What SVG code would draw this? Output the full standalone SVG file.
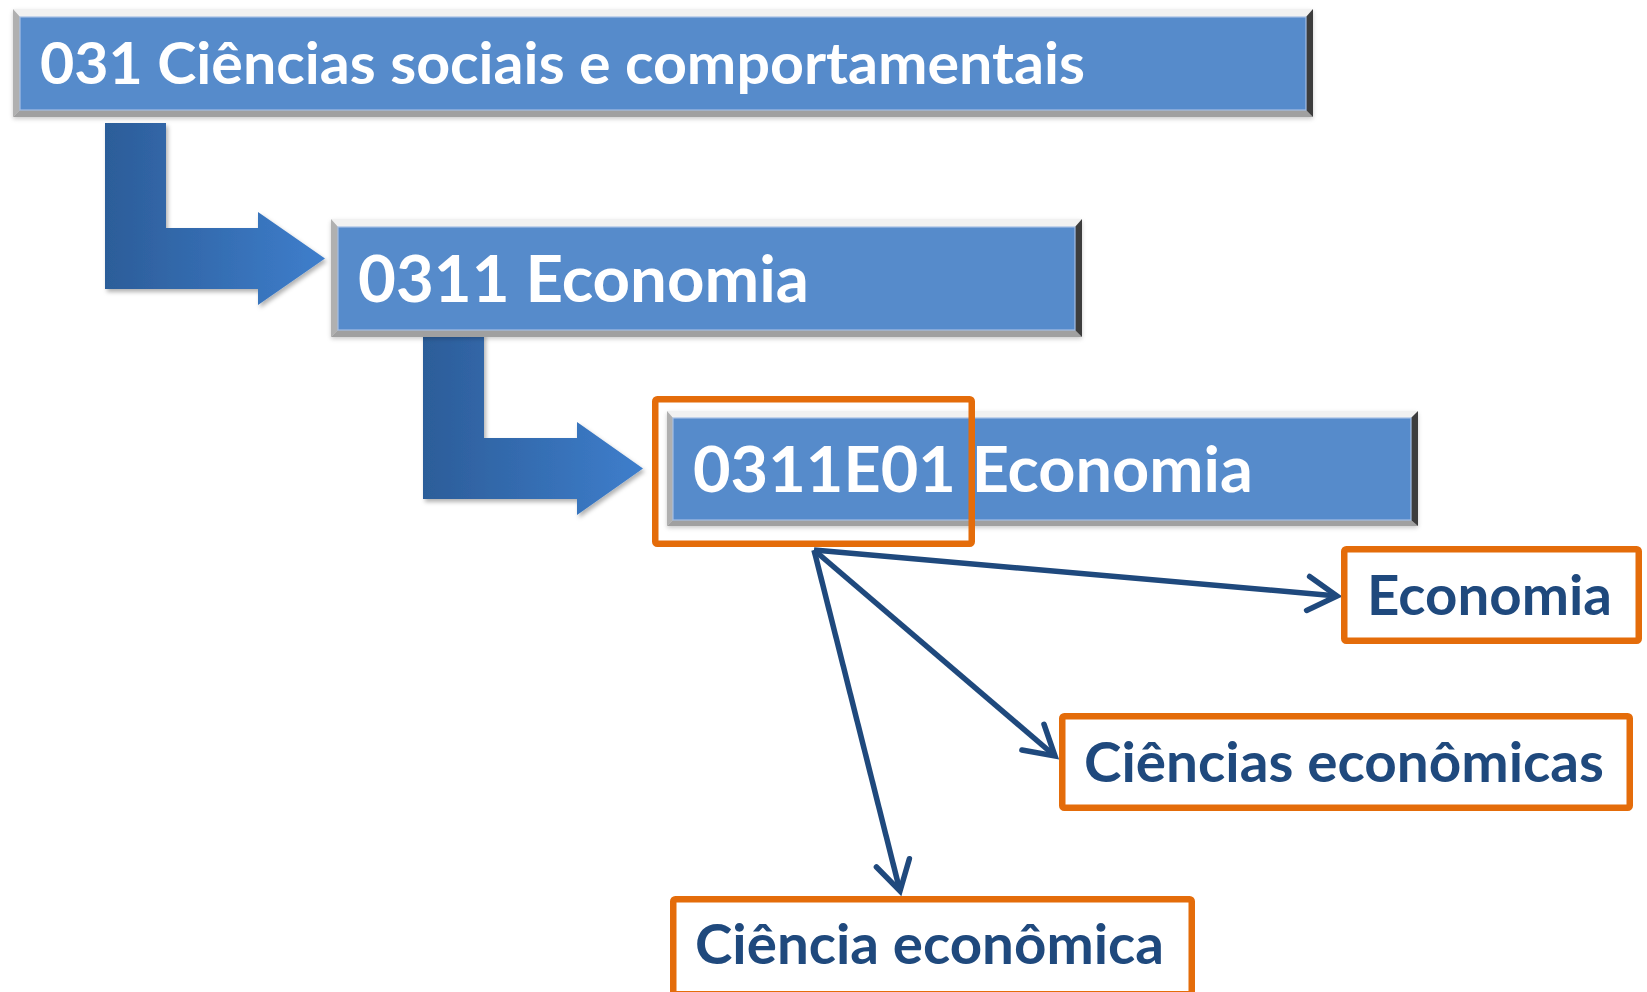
<svg xmlns="http://www.w3.org/2000/svg" width="1647" height="992" viewBox="0 0 1647 992">
<style>
.btxt{font-family:Lato,"Open Sans","Liberation Sans",sans-serif;font-weight:bold;fill:#ffffff}
.ltxt{font-family:Lato,"Open Sans","Liberation Sans",sans-serif;font-weight:bold;fill:#1F497D}
.fill{fill:#578BCB;stroke:#A3BFE5;stroke-width:1.2}
.bt{fill:#F1F1F1}
.bl{fill:#B0B0B0}
.bb{fill:#A0A0A0}
.br{fill:#3C3C3C}
.org{fill:#ffffff;stroke:#E46C0A;stroke-width:6.5}
.orgn{fill:none;stroke:#E46C0A;stroke-width:6.5}
.con{fill:none;stroke:#1F497D;stroke-width:5.5;marker-end:url(#chev)}
.bent{fill:url(#bentg);filter:url(#sh)}
</style>
<defs>
<linearGradient id="bentg" x1="0" y1="0" x2="1" y2="0">
<stop offset="0" stop-color="#2C5D99"/>
<stop offset="1" stop-color="#3E7ECC"/>
</linearGradient>
<filter id="sh" x="-10%" y="-10%" width="125%" height="125%">
<feDropShadow dx="2" dy="3" stdDeviation="2" flood-color="#000" flood-opacity="0.3"/>
</filter>
<filter id="bsh" x="-5%" y="-20%" width="110%" height="140%">
<feDropShadow dx="0" dy="2" stdDeviation="2" flood-color="#000" flood-opacity="0.2"/>
</filter>
<marker id="chev" markerUnits="userSpaceOnUse" viewBox="-36 -24 40 48" markerWidth="40" markerHeight="48" refX="0" refY="0" orient="auto" overflow="visible">
<path d="M-29,-17 L0,0 L-29,17" fill="none" stroke="#1F497D" stroke-width="5.5" stroke-linecap="round" stroke-linejoin="miter"/>
</marker>
</defs>
<rect width="1647" height="992" fill="#ffffff"/>

<g id="arrows-bent">
<polygon class="bent" points="105,123 166,123 166,228 258,228 258,212 325,258.5 258,305 258,289 105,289"/>
<polygon class="bent" points="423,333 484,333 484,438 577,438 577,422 643,468.5 577,515 577,499 423,499"/>
</g>

<g id="node-031" filter="url(#bsh)">
<polygon class="bt" points="13,9 1313,9 1306,17 20,17"/>
<polygon class="bl" points="13,9 20,17 20,110 13,117"/>
<polygon class="bb" points="13,117 20,110 1306,110 1313,117"/>
<polygon class="br" points="1313,9 1313,117 1306,110 1306,17"/>
<rect class="fill" x="20" y="17" width="1286" height="93"/>
<text class="btxt" x="40" y="84" font-size="57" textLength="1045" lengthAdjust="spacingAndGlyphs">031 Ciências sociais e comportamentais</text>
</g>

<g id="node-0311" filter="url(#bsh)">
<polygon class="bt" points="331,219 1082,219 1075,227 338,227"/>
<polygon class="bl" points="331,219 338,227 338,330 331,337"/>
<polygon class="bb" points="331,337 338,330 1075,330 1082,337"/>
<polygon class="br" points="1082,219 1082,337 1075,330 1075,227"/>
<rect class="fill" x="338" y="227" width="737" height="103"/>
<text class="btxt" x="358" y="302" font-size="65" textLength="451" lengthAdjust="spacingAndGlyphs">0311 Economia</text>
</g>

<g id="node-0311E01" filter="url(#bsh)">
<polygon class="bt" points="667,411 1418,411 1411,418 673,418"/>
<polygon class="bl" points="667,411 673,418 673,520 667,526"/>
<polygon class="bb" points="667,526 673,520 1411,520 1418,526"/>
<polygon class="br" points="1418,411 1418,526 1411,520 1411,418"/>
<rect class="fill" x="673" y="418" width="738" height="102"/>
<text class="btxt" x="693" y="492" font-size="64" textLength="560" lengthAdjust="spacingAndGlyphs">0311E01 Economia</text>
</g>

<g id="highlight-0311E01">
<rect class="orgn" x="655.25" y="399.25" width="316.5" height="144.5" rx="2"/>
</g>

<g id="connectors">
<line class="con" x1="814" y1="550" x2="1337" y2="596"/>
<line class="con" x1="814" y1="550" x2="1055" y2="756"/>
<line class="con" x1="814" y1="550" x2="900" y2="891"/>
</g>

<g id="node-economia">
<rect class="org" x="1344.25" y="549.25" width="294.5" height="91.5" rx="2"/>
<text class="ltxt" x="1367" y="615" font-size="55" textLength="245" lengthAdjust="spacingAndGlyphs">Economia</text>
</g>

<g id="node-ciencias-economicas">
<rect class="org" x="1062.25" y="716.25" width="567.5" height="91.5" rx="2"/>
<text class="ltxt" x="1084" y="782" font-size="55" textLength="520" lengthAdjust="spacingAndGlyphs">Ciências econômicas</text>
</g>

<g id="node-ciencia-economica">
<rect class="org" x="673.25" y="899.25" width="518.5" height="95" rx="2"/>
<text class="ltxt" x="695" y="964" font-size="55" textLength="469" lengthAdjust="spacingAndGlyphs">Ciência econômica</text>
</g>
</svg>
